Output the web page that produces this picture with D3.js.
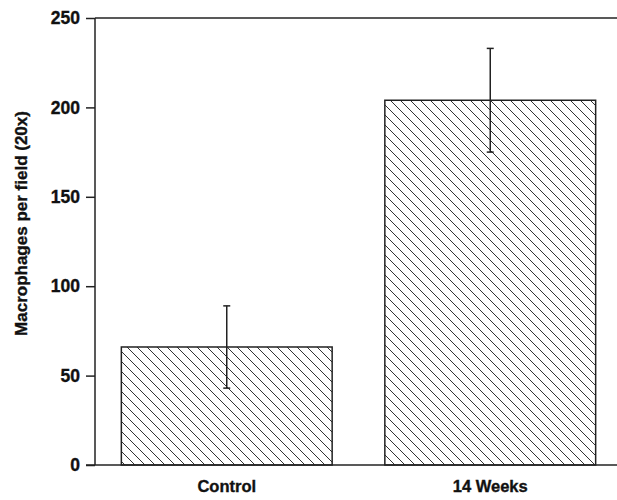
<!DOCTYPE html>
<html>
<head>
<meta charset="utf-8">
<script src="https://cdn.jsdelivr.net/npm/d3@7"></script>
<style>
    html, body { margin: 0; padding: 0; background: #fff; }
    svg { display: block; }
    text { font-family: "Liberation Sans", Arial, sans-serif; font-weight: bold; fill: #111; stroke: #111; stroke-width: 0.35px; }
</style>
</head>
<body>
<script>
const categories = ['Control', '14 Weeks'];
const means = [66, 204];
const errors = [23, 29];
const yTicks = [0, 50, 100, 150, 200, 250];
const yLabel = 'Macrophages per field (20x)';

const width = 617;
const height = 500;
const marginTop = 18;
const marginLeft = 95;
const marginBottom = 35;
const ink = '#222';

const svg = d3.select('body')
    .append('svg')
    .attr('width', width)
    .attr('height', height);

// hatch pattern for the bars
const pattern = svg.append('defs')
    .append('pattern')
    .attr('id', 'hatch')
    .attr('patternUnits', 'userSpaceOnUse')
    .attr('width', 10)
    .attr('height', 10);

pattern.append('path')
    .attr('d', 'M-2,8 L2,12 M0,0 L10,10 M8,-2 L12,2')
    .attr('stroke', '#333')
    .attr('stroke-width', 1)
    .attr('fill', 'none');

const yScale = d3.scaleLinear()
    .domain([0, 250])
    .range([height - marginBottom, marginTop]);

const xScale = d3.scaleBand()
    .domain(categories)
    .range([marginLeft, width + 5])
    .paddingInner(0.2)
    .paddingOuter(0.1);

// Y axis
const yAxis = d3.axisLeft(yScale)
    .tickValues(yTicks)
    .tickSize(9)
    .tickPadding(6);

const yG = svg.append('g')
    .attr('transform', `translate(${marginLeft}, 0)`)
    .call(yAxis);

yG.select('.domain').remove();
yG.selectAll('line').attr('stroke', ink).attr('stroke-width', 1.5);
yG.selectAll('text').attr('font-size', 17.5).style('font-family', '"Liberation Sans", Arial, sans-serif').attr('fill', '#111');

// frame lines: left axis, top line, bottom line
svg.append('line')
    .attr('x1', marginLeft).attr('x2', marginLeft)
    .attr('y1', yScale(250)).attr('y2', yScale(0))
    .attr('stroke', ink).attr('stroke-width', 1.5);

svg.append('line')
    .attr('x1', marginLeft).attr('x2', width)
    .attr('y1', yScale(250)).attr('y2', yScale(250))
    .attr('stroke', ink).attr('stroke-width', 1.5);

// Bars
svg.append('g')
    .selectAll('rect')
    .data(categories)
    .join('rect')
        .attr('x', d => xScale(d))
        .attr('y', (d, i) => yScale(means[i]))
        .attr('width', xScale.bandwidth())
        .attr('height', (d, i) => yScale(0) - yScale(means[i]))
        .attr('fill', 'url(#hatch)')
        .attr('stroke', ink)
        .attr('stroke-width', 1.5);

// Error bars
const errG = svg.append('g')
    .attr('stroke', ink)
    .attr('stroke-width', 1.5);

categories.forEach((c, i) => {
    const cx = xScale(c) + xScale.bandwidth() / 2;
    const top = yScale(means[i] + errors[i]);
    const bottom = yScale(means[i] - errors[i]);
    errG.append('line').attr('x1', cx).attr('x2', cx).attr('y1', top).attr('y2', bottom);
    errG.append('line').attr('x1', cx - 3.5).attr('x2', cx + 3.5).attr('y1', top).attr('y2', top);
    errG.append('line').attr('x1', cx - 3.5).attr('x2', cx + 3.5).attr('y1', bottom).attr('y2', bottom);
});

// X axis
const xAxis = d3.axisBottom(xScale)
    .tickSize(0)
    .tickPadding(15);

const xG = svg.append('g')
    .attr('transform', `translate(0, ${yScale(0)})`)
    .call(xAxis);

xG.select('.domain').remove();
xG.selectAll('text').attr('font-size', 16.5).style('font-family', '"Liberation Sans", Arial, sans-serif').attr('fill', '#111');

svg.append('line')
    .attr('x1', marginLeft - 9).attr('x2', width)
    .attr('y1', yScale(0)).attr('y2', yScale(0))
    .attr('stroke', ink).attr('stroke-width', 1.5);

// Y label
svg.append('text')
    .attr('transform', `translate(27, ${(yScale(0) + yScale(250)) / 2 - 18}) rotate(-90)`)
    .attr('text-anchor', 'middle')
    .attr('font-size', 17)
    .text(yLabel);
</script>
</body>
</html>
